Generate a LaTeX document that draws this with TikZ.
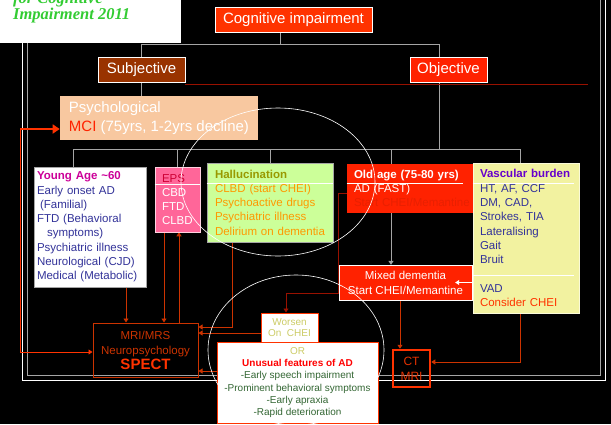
\documentclass[tikz,border=0pt]{standalone}
\usepackage{fontspec}
\setmainfont{Liberation Sans}
\newfontfamily\titlefont{Liberation Serif}
\usetikzlibrary{positioning}
\usetikzlibrary{arrows.meta}
\usetikzlibrary{backgrounds}

\definecolor{cogred}{RGB}{255,51,0}
\definecolor{boxred}{RGB}{255,34,0}
\definecolor{subjbrown}{RGB}{153,51,0}
\definecolor{peach}{RGB}{248,200,160}
\definecolor{pinkbox}{RGB}{255,102,153}
\definecolor{limebox}{RGB}{204,255,153}
\definecolor{creambox}{RGB}{242,242,160}
\definecolor{navytext}{RGB}{51,51,153}
\definecolor{magtext}{RGB}{204,0,153}
\definecolor{olivetext}{RGB}{153,153,0}
\definecolor{orangetext}{RGB}{255,153,0}
\definecolor{purpletext}{RGB}{102,0,204}
\definecolor{greentext}{RGB}{51,102,51}
\definecolor{yellowtext}{RGB}{204,204,102}
\definecolor{epsred}{RGB}{204,0,51}
\definecolor{ctred}{RGB}{230,50,0}
\definecolor{rustline}{RGB}{204,51,0}
\definecolor{darkline}{RGB}{153,17,0}
\definecolor{greyline}{RGB}{165,165,165}
\definecolor{titlegreen}{RGB}{51,204,51}
\definecolor{hiddenred}{RGB}{232,32,0}

\newcommand{\boxfont}{\fontsize{11.5}{14.3}\selectfont}

\begin{document}
\begin{tikzpicture}[x=1pt,y=-1pt,
    every node/.style={inner sep=0pt,font=\boxfont},
    headbox/.style={draw=white,line width=0.6pt,text=white,font=\fontsize{15}{18}\selectfont,minimum height=25pt,align=center},
    listbox/.style={align=left,line width=0.6pt},
    gline/.style={draw=greyline,line width=1pt},
    garrow/.style={gline,-{Triangle[width=5pt,length=4pt]}},
    rline/.style={draw=rustline,line width=0.9pt},
    rarrow/.style={rline,-{Triangle[width=5pt,length=4pt]}}]
    \useasboundingbox (0,0) rectangle (611,424);
    \begin{scope}[on background layer]
        \fill[black] (0,0) rectangle (611,424);
        \draw[white,line width=1pt] (22,-5) rectangle (605,380);
        \draw[greyline,line width=1pt] (27,-5) rectangle (600,375);
    \end{scope}

    \node[headbox,fill=cogred,minimum width=157pt] (cog) at (293.5,19.5) {Cognitive impairment};
    \node[headbox,fill=subjbrown,minimum width=87pt] (subj) at (141.5,69.5) {Subjective};
    \node[headbox,fill=boxred,minimum width=77pt] (obj) at (448.5,69.5) {Objective};
    \node[listbox,fill=peach,minimum width=198pt,minimum height=44pt,text=white,
        font=\fontsize{15}{19}\selectfont] (mci) at (159,118) {Psychological\\\textcolor{boxred}{MCI} (75yrs, 1-2yrs decline)};

    \node[listbox,fill=white,draw=greyline,text width=106pt,inner xsep=3pt,minimum height=120pt,text=navytext] (young) at (90,227)
        {\textbf{\textcolor{magtext}{Young Age \textasciitilde60}}\\Early onset AD\\\hspace{3pt}(Familial)\\FTD (Behavioral\\\hspace{10pt}symptoms)\\Psychiatric illness\\Neurological (CJD)\\Medical (Metabolic)};
    \node[listbox,fill=pinkbox,draw=white!70!pinkbox,text width=31pt,inner xsep=7pt,minimum height=65pt,text=white] (eps) at (177.5,199.5)
        {\textcolor{epsred}{EPS}\\CBD\\FTD\\CLBD};
    \node[listbox,fill=limebox,draw=greyline,text width=110pt,inner xsep=8pt,minimum height=79pt,text=orangetext] (hall) at (270,202.5)
        {\textbf{\textcolor{olivetext}{Hallucination}}\\CLBD (start CHEI)\\Psychoactive drugs\\Psychiatric illness\\Delirium on dementia};
    \node[listbox,fill=boxred,text width=119pt,inner xsep=7pt,minimum height=49pt,text=white] (old) at (413.5,188.5)
        {\textbf{Old age (75-80 yrs)}\\AD (FAST)\\\textcolor{hiddenred}{Start CHEI/Memantine}};
    \node[listbox,fill=creambox,draw=white!60!creambox,text width=92pt,inner xsep=7pt,minimum height=150pt,text=navytext] (vasc) at (526,238)
        {\textbf{\textcolor{purpletext}{Vascular burden}}\\HT, AF, CCF\\DM, CAD,\\Strokes, TIA\\Lateralising\\Gait\\Bruit\\[14pt]VAD\\\textcolor{cogred}{Consider CHEI}};

    \node[draw=white,fill=boxred,minimum width=133pt,minimum height=35pt,align=center,text=white,
        font=\fontsize{11.5}{15}\selectfont] (mixed) at (405.5,282.5) {Mixed dementia\\Start CHEI/Memantine};
    \node[draw=rustline,line width=1pt,minimum width=105pt,minimum height=54pt,align=center,text=rustline,
        font=\fontsize{11.5}{15}\selectfont] (spect) at (145.5,350)
        {MRI/MRS\\Neuropsychology\\{\fontsize{15}{15}\selectfont\bfseries\textcolor{cogred}{SPECT}}};
    \node[draw=cogred,line width=1pt,fill=white,minimum width=57pt,minimum height=29pt,align=center,text=yellowtext,
        font=\fontsize{10}{10.5}\selectfont] (worsen) at (289.5,327.5) {Worsen\\On\ \ CHEI};
    \node[draw=cogred,line width=1pt,fill=white,minimum width=161pt,minimum height=81pt,align=center,text=greentext,
        font=\fontsize{10}{12.3}\selectfont] (orbox) at (297.5,382.5)
        {\textcolor{yellowtext}{OR}\\\textbf{\textcolor{red}{Unusual features of AD}}\\-Early speech impairment\\-Prominent behavioral symptoms\\-Early apraxia\\-Rapid deterioration};
    \node[draw=cogred,line width=2.5pt,minimum size=37pt,align=center,text=ctred,
        font=\fontsize{12}{15}\selectfont] (ct) at (411.5,368.5) {CT\\MRI};

    % lines inside the boxes
    \draw[white,line width=0.8pt] (eps.west |- 0,184) -- (eps.east |- 0,184);
    \draw[white,line width=0.8pt] (hall.west |- 0,183) -- (hall.east |- 0,183);
    \draw[white,line width=0.8pt] (old.west |- 0,183) -- (463,183);
    \draw[white,line width=0.8pt] (vasc.west |- 0,183) -- (574,183);
    \draw[white,line width=0.8pt] (vasc.west |- 0,275) -- (574,275);

    \coordinate (ctop) at (280,44);
    \coordinate (obar) at (439,44);
    \coordinate (barl) at (73,149);
    \coordinate (barr) at (520,149);
    \coordinate (oldtick) at (391,149);
    \coordinate (xa) at (126,0);
    \coordinate (xb) at (164,0);
    \coordinate (xc) at (179,0);
    \coordinate (xd) at (232,327);
    \coordinate (ye) at (0,333);
    \coordinate (yf) at (0,371);
    \coordinate (g0) at (338,193);
    \coordinate (g1) at (338,293);
    \coordinate (g2) at (286,293);
    \coordinate (xh) at (400,0);
    \coordinate (xi) at (520,362);
    \coordinate (l1) at (20,129);
    \coordinate (yj) at (0,352);

    \begin{scope}[on background layer]
        % tree
        \draw[gline] (cog.south -| ctop) -- (ctop);
        \draw[gline] (subj.north) |- (obar) -- (obar |- obj.north);
        \draw[gline] (subj.south) -- (subj.south |- mci.north);
        \draw[gline] (obar |- obj.south) -- (obar |- barl);
        \draw[gline] (barl) -- (barr);
        \draw[gline] (barl) -- (barl |- young.north);
        \draw[gline] (eps.north |- barl) -- (eps.north);
        \draw[gline] (hall.north |- barl) -- (hall.north);
        \draw[gline] (barr) -- (barr |- vasc.north);
        \draw[garrow] (oldtick) -- (oldtick |- mixed.north);
        \draw[darkline,line width=0.8pt] (subj.south east |- 0,84) -- (588,84);
        % to the tests
        \draw[rarrow] (young.south -| xa) -- (spect.north -| xa);
        \draw[rarrow] (eps.south -| xb) -- (spect.north -| xb);
        \draw[rarrow] (spect.north -| xc) -- (eps.south -| xc);
        \draw[rarrow] (hall.south -| xd) -- (xd) -- (spect.east |- xd);
        \draw[rarrow] (worsen.west |- ye) -- (spect.east |- ye);
        \draw[rarrow] (orbox.west |- yf) -- (spect.east |- yf);
        \draw[rarrow,draw=darkline] (old.west |- g0) -- (g0) -- (g1) -- (g2) -- (worsen.north -| g2);
        \draw[rarrow] (mixed.south -| xh) -- (ct.north -| xh);
        \draw[rarrow] (vasc.south -| xi) -- (xi) -- (ct.east |- xi);
        \draw[rarrow,line width=0.8pt,draw=cogred] (l1) -- (l1 |- yj) -- (spect.west |- yj);
    \end{scope}
    \draw[draw=cogred,line width=2.5pt,-{Triangle[width=9pt,length=7pt]}] (l1) -- (mci.west |- l1);
    \draw[white,line width=0.8pt,-{Triangle[width=5pt,length=4pt]}] (vasc.west |- mixed.east) -- ([xshift=-17pt]mixed.east);

    % circles
    \draw[white,line width=0.6pt] (278,182) ellipse [x radius=97,y radius=74];
    \draw[white,line width=0.6pt] (296,350) ellipse [x radius=88,y radius=75];

    % title
    \fill[white] (0,0) rectangle (181,43);
    \node[anchor=base west,text=titlegreen,font=\fontsize{16.5}{19}\titlefont\bfseries\itshape] (title1) at (13,3) {for Cognitive};
    \node[anchor=base west,text=titlegreen,font=\fontsize{16.5}{19}\titlefont\bfseries\itshape] (title2) at (13,19) {Impairment 2011};
\end{tikzpicture}
\end{document}
